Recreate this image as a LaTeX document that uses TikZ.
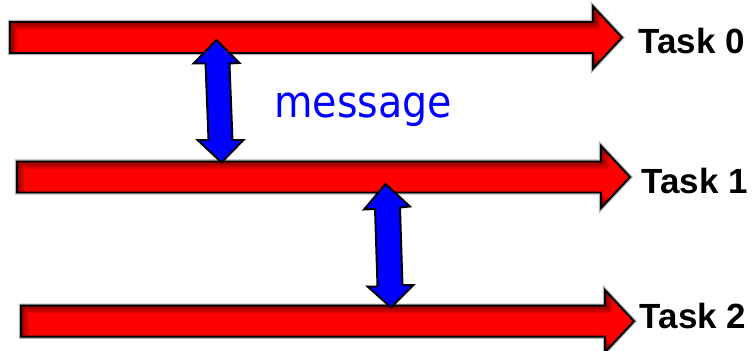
\documentclass[tikz,border=0pt]{standalone}
\usepackage{fontspec}
\setmainfont{Liberation Sans}
\newfontfamily\msgfont{DejaVu Sans Condensed}

\tikzset{
    tasklabel/.style={font=\bfseries\fontsize{19.9}{24}\selectfont, inner sep=0},
    msgarrow/.style={fill=blue, draw=black, line width=1.1pt, line join=miter}
}

% red block arrow: left end x, centre y, x where the head starts
\newcommand{\taskarrow}[3]{%
    \def\arrowpath{(#1,#2+0.31) -- (#3,#2+0.31) -- (#3,#2+0.62) -- (#3+0.58,#2)
        -- (#3,#2-0.62) -- (#3,#2-0.31) -- (#1,#2-0.31) -- cycle}%
    \draw [draw=black!30, line width=2.4pt, line join=miter] \arrowpath;
    \fill [red] \arrowpath;
    \begin{scope}
        \clip \arrowpath;
        \foreach \d in {1,...,6}
            \fill [red!30!black, opacity=0.14, even odd rule,
                shift={(0.025*\d,-0.025*\d)}] (-1,-2) rectangle (16,9) \arrowpath;
    \end{scope}
    \draw [line width=1.1pt, line join=miter] \arrowpath;
}

\begin{document}
\begin{tikzpicture}
        \useasboundingbox (0,0) rectangle (15.06,7.02);
        \taskarrow{0.2}{6.27}{11.86}
        \taskarrow{0.34}{3.48}{12.02}
        \taskarrow{0.42}{0.596}{12.10}
        \node (task0) [tasklabel, anchor=base west] at (12.76,5.95) {Task 0};
        \node (task1) [tasklabel, anchor=base west] at (12.82,3.15) {Task 1};
        \node (task2) [tasklabel, anchor=base west] at (12.79,0.45) {Task 2};
        % message exchanges between neighbouring tasks
        \draw [msgarrow] (4.33,6.22) -- (4.79,5.76) -- (4.59,5.75) -- (4.65,4.22)
            -- (4.87,4.22) -- (4.43,3.77) -- (3.95,4.22) -- (4.17,4.22)
            -- (4.11,5.75) -- (3.87,5.75) -- cycle;
        \draw [msgarrow] (7.71,3.34) -- (8.20,2.89) -- (8.00,2.87) -- (8.05,1.32)
            -- (8.27,1.32) -- (7.82,0.87) -- (7.35,1.29) -- (7.55,1.29)
            -- (7.50,2.84) -- (7.28,2.83) -- cycle;
        \node (msg) [anchor=base west, inner sep=0, text=blue,
            font=\msgfont\fontsize{25}{30}\selectfont] at (5.48,4.67) {message};
\end{tikzpicture}
\end{document}
